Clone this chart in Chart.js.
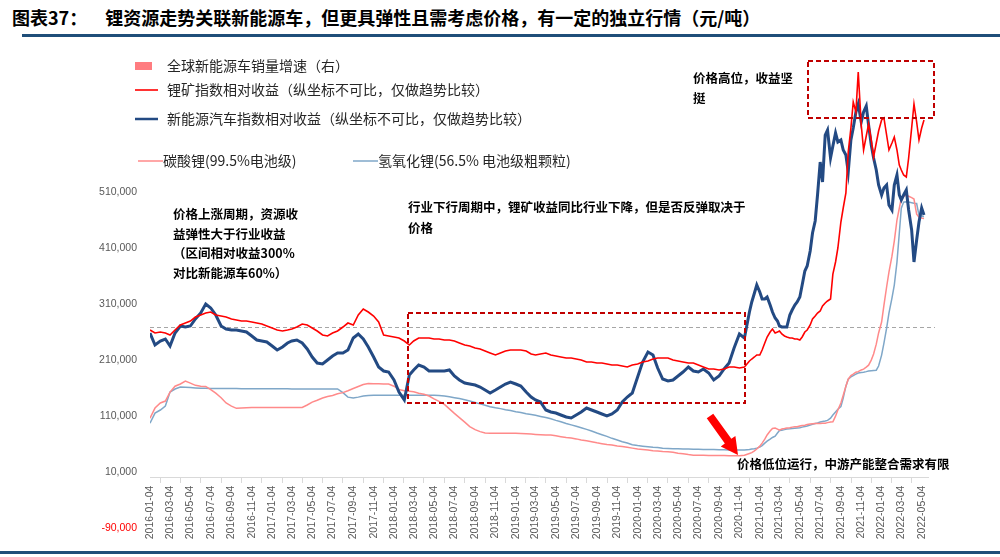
<!DOCTYPE html>
<html lang="zh-CN">
<head>
<meta charset="utf-8">
<title>锂资源走势</title>
<script src="https://cdn.jsdelivr.net/npm/chart.js@4.4.1/dist/chart.umd.min.js"></script>
<style>
  html, body { margin: 0; padding: 0; background: #fff; }
  body { width: 1000px; height: 557px; position: relative; overflow: hidden; font-family: "Noto Sans CJK SC", sans-serif; }
  #title { position: absolute; left: 12px; top: 4px; font-size: 18px; font-weight: 700; color: #000; white-space: nowrap; line-height: 26px; }
  #title .main { margin-left: 18px; }
  #topRule { position: absolute; left: 22px; right: 0; top: 34px; height: 3px; background: #1f4e79; }
  #bottomRule { position: absolute; left: 0; right: 0; top: 551px; height: 3px; background: #1f4e79; }
  #wrap { position: absolute; left: 0; top: 0; width: 1000px; height: 557px; }
</style>
</head>
<body>
<div id="title"><span>图表37：</span><span class="main">锂资源走势关联新能源车，但更具弹性且需考虑价格，有一定的独立行情（元/吨）</span></div>
<div id="topRule"></div>
<div id="wrap"><canvas id="chart" width="1000" height="557"></canvas></div>
<div id="bottomRule"></div>
<script>
// 日期（2016-2020.11 半月一个点，之后每周一个点）
const dates = [
  '2016-01-04','2016-01-19','2016-02-04','2016-02-19','2016-03-04','2016-03-19','2016-04-04','2016-04-19','2016-05-04','2016-05-19','2016-06-04','2016-06-19',
  '2016-07-04','2016-07-19','2016-08-04','2016-08-19','2016-09-04','2016-09-19','2016-10-04','2016-10-19','2016-11-04','2016-11-19','2016-12-04','2016-12-19',
  '2017-01-04','2017-01-19','2017-02-04','2017-02-19','2017-03-04','2017-03-19','2017-04-04','2017-04-19','2017-05-04','2017-05-19','2017-06-04','2017-06-19',
  '2017-07-04','2017-07-19','2017-08-04','2017-08-19','2017-09-04','2017-09-19','2017-10-04','2017-10-19','2017-11-04','2017-11-19','2017-12-04','2017-12-19',
  '2018-01-04','2018-01-19','2018-02-04','2018-02-19','2018-03-04','2018-03-19','2018-04-04','2018-04-19','2018-05-04','2018-05-19','2018-06-04','2018-06-19',
  '2018-07-04','2018-07-19','2018-08-04','2018-08-19','2018-09-04','2018-09-19','2018-10-04','2018-10-19','2018-11-04','2018-11-19','2018-12-04','2018-12-19',
  '2019-01-04','2019-01-19','2019-02-04','2019-02-19','2019-03-04','2019-03-19','2019-04-04','2019-04-19','2019-05-04','2019-05-19','2019-06-04','2019-06-19',
  '2019-07-04','2019-07-19','2019-08-04','2019-08-19','2019-09-04','2019-09-19','2019-10-04','2019-10-19','2019-11-04','2019-11-19','2019-12-04','2019-12-19',
  '2020-01-04','2020-01-19','2020-02-04','2020-02-19','2020-03-04','2020-03-19','2020-04-04','2020-04-19','2020-05-04','2020-05-19','2020-06-04','2020-06-19',
  '2020-07-04','2020-07-19','2020-08-04','2020-08-19','2020-09-04','2020-09-19','2020-10-04','2020-10-19','2020-11-04','2020-11-19',
  '2020-12-04','2020-12-11','2020-12-19','2020-12-26',
  '2021-01-04','2021-01-11','2021-01-19','2021-01-26','2021-02-04','2021-02-11','2021-02-19','2021-02-26','2021-03-04','2021-03-11','2021-03-19','2021-03-26',
  '2021-04-04','2021-04-11','2021-04-19','2021-04-26','2021-05-04','2021-05-11','2021-05-19','2021-05-26','2021-06-04','2021-06-11','2021-06-19','2021-06-26',
  '2021-07-04','2021-07-11','2021-07-19','2021-07-26','2021-08-04','2021-08-11','2021-08-19','2021-08-26','2021-09-04','2021-09-11','2021-09-19','2021-09-26',
  '2021-10-04','2021-10-11','2021-10-19','2021-10-26','2021-11-04','2021-11-11','2021-11-19','2021-11-26','2021-12-04','2021-12-11','2021-12-19','2021-12-26',
  '2022-01-04','2022-01-11','2022-01-19','2022-01-26','2022-02-04','2022-02-11','2022-02-19','2022-02-26','2022-03-04','2022-03-11','2022-03-19','2022-03-26',
  '2022-04-04','2022-04-11','2022-04-19','2022-04-26','2022-05-04','2022-05-11'
];

// 锂矿指数相对收益（起点=100，纵坐标不可比）
const mineIdx = [
  98.5,97, 97.5,97, 96,98.5, 101,102, 103,105, 106,107, 107.5,106, 105.5,105, 104,103.5, 103,103, 102.5,102, 101.5,100.5,
  99.5,98.5, 98,98.5, 99,100, 101.5,101, 99.5,98, 96,95.5, 97,98, 100,102, 101,106, 109,107.5, 105.5,102.5, 96,95.5,
  95,94.5, 93,91, 93,94.5, 94.5,94.5, 94,94, 93.5,93.5, 93,92, 91,90.5, 89.5,89, 88,87, 86,87, 88,88.5,
  88.5,88.5, 88,86.5, 86,86.5, 87,86, 85.5,85, 84.5,84.5, 84,83.5, 82.5,82.5, 82,82, 81.5,81, 81,80.5, 80,81,
  81.5,82.5, 83,84, 84.5,84.5, 84.5,83.5, 83,82.5, 82,82, 81,80, 79,79, 78.5,79, 80,80, 79.5,80,
  83,84,85,86,
  86,88.5,92,95, 97.5,99,97,97.5, 98,96.5,95.5,95, 94.5,94.5,94,94, 93.5,95,97.5,98.5, 101,104,105.5,107,
  108,110.5,112,113, 114,126.5,132.5,139.5, 152.5,159.5,167,187.5, 199.5,212.5,207.5,227.5, 201,188.5,195.5,201.5, 193.5,185,192,198,
  203.5,204.5,196,188.5, 192,195,188.5,181, 178.5,176,175,184.5, 199.5,211.5,202.5,193.5, 199.5,203.5
];

// 新能源汽车指数相对收益（起点=100，纵坐标不可比）
const nevIdx = [
  97,91, 93,94, 90.5,97, 100.5,100, 100.5,104, 107,111.5, 109.5,106, 100.5,99, 98.5,98.5, 98,97.5, 95.5,93.5, 93,92.5,
  90.5,88.5, 90,92, 93,93.5, 92,89, 85,82, 81.5,83.5, 85.5,87, 87,88.5, 94.5,96.5, 94,90, 85,80, 78,77.5,
  73.5,67.5, 63.5,76, 78.5,81, 80,78, 78,78, 78,78.5, 75.5,73.5, 72,71.5, 71,70, 68.5,67, 68.5,70, 71.5,72.5,
  71.5,70.5, 67.5,65, 63.5,62.5, 58.5,57.5, 57,56, 55,54.5, 56,57.5, 59.5,58.5, 57.5,56.5, 55.5,56.5, 58.5,62.5, 65,67,
  75,82.5, 87.5,86, 79.5,74, 73,73.5, 75.5,77.5, 80,78, 77.5,79, 77,73.5, 75.5,79, 82,89.5, 96.5,94.5,
  107.5,112.5,117,121,
  117.5,114,114,115, 111,107.5,104.5,103, 100.5,100,100,100, 106,108.5,111,112.5, 115,121,128,130.5, 138,147,153,166,
  182.5,172.5,196,198.5, 184.5,190.5,197,192.5, 193.5,188.5,186,177.5, 193.5,199.5,207.5,211.5, 202.5,207.5,210.5,201, 191,184.5,178.5,171,
  166,169.5,171,161, 158.5,171,176,166, 163.5,166,168.5,158.5, 148.5,132.5,143.5,152.5, 159.5,156
];

// 碳酸锂（99.5%电池级），元/吨
const li2co3 = [
  106000,124000, 133000,136500, 152500,163000, 167000,172000, 168500,164500, 163000,162500,
  157000,150500, 142500,133000, 127500,123500, 124000,124500, 125000,125000, 125000,125000,
  125000,125000, 125000,125000, 125000,125000, 125000,129500, 134500,138000, 142000,144500,
  146500,149500, 151500,155000, 159000,162500, 166000,168000, 167500,167500, 167000,167000,
  163000,157000, 155000,154000, 153000,150500, 148500,145500, 140500,136000, 130500,122500,
  114500,107000, 99000,91000, 85500,82000, 79500,79000, 79000,79000, 79000,79000,
  79000,78500, 78000,77500, 77000,76500, 76000,76000, 74500,73000, 71500,70500,
  69000,67000, 65500,64000, 62000,60500, 59000,58000, 56500,55500, 54000,52500,
  51000,50000, 49000,48000, 47500,46500, 46000,45000, 43500,42500, 41000,40000,
  40000,40000, 39500,39500, 39500,39500, 39000,39000, 39000,40000,
  43000,44500,47500,51000,
  56000,61500,68500,76000, 83000,87500,88500,86500, 84500,86500,87500,88500,
  89000,90000,90500,90500, 92000,93000,93500,94500, 95500,96000,96500,96500,
  96500,97000,97000,98000, 99000,99500,109500,120500, 133000,147000,163000,175500,
  182000,184500,188000,189000, 192000,193500,197000,200500, 209500,220500,238000,258000,
  277500,307500,340000,366500, 395000,422000,459500,480500, 498500,502000,504000,502000,
  499500,497000,470000,464500, 463000,462000
];

// 氢氧化锂（56.5% 电池级粗颗粒），元/吨
const lioh = [
  97000,115000, 120500,127500, 152500,158000, 161500,161000, 160500,160000, 159500,159500,
  159000,159000, 159000,159000, 159000,159000, 158500,158500, 158500,158500, 158500,158500,
  158500,158500, 158500,158500, 158000,158000, 158000,158000, 158000,158000, 158000,158000,
  158000,158000, 151500,143500, 142000,143500, 145500,146500, 147000,147000, 147000,147000,
  147000,147000, 147000,147000, 147000,147000, 147000,147000, 147000,146500, 145500,144000,
  142500,141000, 139000,136500, 134000,131500, 129000,126500, 124500,123000, 121000,119500,
  117500,116000, 114000,112500, 111000,109000, 107000,105000, 102000,99500, 96500,94000,
  91500,89000, 86000,83000, 79500,76500, 73500,70000, 67000,64000, 61500,58500,
  57000,56000, 55000,54000, 53500,52500, 52000,51500, 51500,51000, 51000,50500,
  50500,50000, 50000,50000, 49500,49500, 49000,49000, 49000,49000,
  50000,51000,51500,52500,
  54500,57000,61500,65000, 68500,71500,74000,79500, 84000,84500,85500,86500,
  87000,87500,88000,88500, 89000,90000,91000,92000, 93500,95000,96500,97500,
  99000,100000,101000,102000, 106000,111500,117000,122000, 126500,142000,163000,175500,
  179500,182000,184500,186500, 187500,188000,189000,190000, 190500,191000,191500,199000,
  218500,240000,266500,293500, 320000,343500,384500,436000, 480500,491500,492000,491500,
  490500,489500,489000,468000, 466500,465500
];

// 全球新能源车销量增速（右）：图中没有画出柱形
const nevSalesGrowth = [];

// 横轴刻度
const xTickLabels = [
  '2016-01-04','2016-03-04','2016-05-04','2016-07-04','2016-09-04','2016-11-04',
  '2017-01-04','2017-03-04','2017-05-04','2017-07-04','2017-09-04','2017-11-04',
  '2018-01-04','2018-03-04','2018-05-04','2018-07-04','2018-09-04','2018-11-04',
  '2019-01-04','2019-03-04','2019-05-04','2019-07-04','2019-09-04','2019-11-04',
  '2020-01-04','2020-03-04','2020-05-04','2020-07-04','2020-09-04','2020-11-04',
  '2021-01-04','2021-03-04','2021-05-04','2021-07-04','2021-09-04','2021-11-04',
  '2022-01-04','2022-03-04','2022-05-04'
];
// 左轴刻度
const yTickValues = [-90000, 10000, 110000, 210000, 310000, 410000, 510000];

// 日期 -> 距 2016-01-04 的天数
const T0 = Date.UTC(2016, 0, 4);
function dayOf(s) {
  const p = s.split('-');
  return (Date.UTC(+p[0], +p[1] - 1, +p[2]) - T0) / 86400000;
}
const tickNames = {};
xTickLabels.forEach(d => { tickNames[dayOf(d)] = d; });

function points(values) {
  return values.map((v, i) => ({ x: dayOf(dates[i]), y: v }));
}

// 图例位置
const legendLayout = [
  { ds: 4, kind: 'box',  x: 135, y: 66,  len: 17, tx: 167 },
  { ds: 0, kind: 'line', x: 135, y: 90,  len: 23, tx: 167 },
  { ds: 1, kind: 'line', x: 135, y: 119, len: 23, tx: 167 },
  { ds: 2, kind: 'line', x: 138, y: 161, len: 25, tx: 163 },
  { ds: 3, kind: 'line', x: 353, y: 161, len: 25, tx: 378 }
];

// 文字批注
const notes = [
  { x: 173, y: 214, text: '价格上涨周期，资源收' },
  { x: 173, y: 234, text: '益弹性大于行业收益' },
  { x: 173, y: 253, text: '（区间相对收益300%' },
  { x: 173, y: 273, text: '对比新能源车60%）' },
  { x: 408, y: 207, text: '行业下行周期中，锂矿收益同比行业下降，但是否反弹取决于' },
  { x: 408, y: 228, text: '价格' },
  { x: 693, y: 78,  text: '价格高位，收益坚' },
  { x: 693, y: 98,  text: '挺' },
  { x: 737, y: 464, text: '价格低位运行，中游产能整合需求有限' }
];
const dashBoxes = [
  { x1: 408, y1: 313, x2: 745, y2: 403 },
  { x1: 808, y1: 61,  x2: 934, y2: 118 }
];
const arrow = { from: [710, 416], to: [738, 455] };

const decorations = {
  id: 'decorations',
  beforeDatasetsDraw(chart) {
    const { ctx, chartArea, scales } = chart;
    const y = Math.round(scales.y2.getPixelForValue(100)) + 0.5;
    ctx.save();
    ctx.strokeStyle = '#a6a6a6';
    ctx.lineWidth = 1;
    ctx.setLineDash([4, 3]);
    ctx.beginPath();
    ctx.moveTo(chartArea.left, y);
    ctx.lineTo(chartArea.right + 7, y);
    ctx.stroke();
    ctx.restore();
  },
  afterDraw(chart) {
    const ctx = chart.ctx;
    const sets = chart.data.datasets;
    ctx.save();

    // 图例
    ctx.font = '14px "Noto Sans CJK SC", sans-serif';
    ctx.textBaseline = 'middle';
    ctx.textAlign = 'left';
    legendLayout.forEach(item => {
      const ds = sets[item.ds];
      if (item.kind === 'box') {
        ctx.fillStyle = ds.backgroundColor;
        ctx.fillRect(item.x, item.y - 4, item.len, 8);
      } else {
        ctx.strokeStyle = ds.borderColor;
        ctx.lineWidth = Math.min(ds.borderWidth, 2.5);
        ctx.beginPath();
        ctx.moveTo(item.x, item.y);
        ctx.lineTo(item.x + item.len, item.y);
        ctx.stroke();
      }
      ctx.fillStyle = '#262626';
      ctx.fillText(ds.label, item.tx, item.y);
    });

    // 虚线框
    ctx.strokeStyle = '#c00000';
    ctx.lineWidth = 2;
    ctx.setLineDash([5, 3]);
    dashBoxes.forEach(b => ctx.strokeRect(b.x1, b.y1, b.x2 - b.x1, b.y2 - b.y1));
    ctx.setLineDash([]);

    // 红色箭头
    const [ax, ay] = arrow.from, [bx, by] = arrow.to;
    const len = Math.hypot(bx - ax, by - ay);
    const ux = (bx - ax) / len, uy = (by - ay) / len;
    const nx = -uy, ny = ux;
    const hx = bx - ux * 17, hy = by - uy * 17;
    ctx.fillStyle = '#ff0000';
    ctx.beginPath();
    ctx.moveTo(ax + nx * 4, ay + ny * 4);
    ctx.lineTo(hx + nx * 4, hy + ny * 4);
    ctx.lineTo(hx + nx * 9, hy + ny * 9);
    ctx.lineTo(bx, by);
    ctx.lineTo(hx - nx * 9, hy - ny * 9);
    ctx.lineTo(hx - nx * 4, hy - ny * 4);
    ctx.lineTo(ax - nx * 4, ay - ny * 4);
    ctx.closePath();
    ctx.fill();

    // 批注文字
    ctx.fillStyle = '#000';
    ctx.font = 'bold 12.5px "Noto Sans CJK SC", sans-serif';
    notes.forEach(n => ctx.fillText(n.text, n.x, n.y));
    ctx.restore();
  }
};

Chart.defaults.font.family = "'Liberation Sans', 'Noto Sans CJK SC', sans-serif";

new Chart(document.getElementById('chart'), {
  type: 'line',
  data: {
    datasets: [
      {
        label: '锂矿指数相对收益（纵坐标不可比，仅做趋势比较）',
        data: points(mineIdx), yAxisID: 'y2',
        borderColor: '#ff0000', borderWidth: 1.6
      },
      {
        label: '新能源汽车指数相对收益（纵坐标不可比，仅做趋势比较）',
        data: points(nevIdx), yAxisID: 'y2',
        borderColor: '#234a83', borderWidth: 3
      },
      {
        label: '碳酸锂(99.5%电池级)',
        data: points(li2co3), yAxisID: 'y',
        borderColor: '#ff8a8a', borderWidth: 1.5
      },
      {
        label: '氢氧化锂(56.5% 电池级粗颗粒)',
        data: points(lioh), yAxisID: 'y',
        borderColor: '#7fa7c8', borderWidth: 1.5
      },
      {
        type: 'bar',
        label: '全球新能源车销量增速（右）',
        data: nevSalesGrowth, yAxisID: 'y3',
        backgroundColor: '#ff7c80'
      }
    ]
  },
  options: {
    responsive: false,
    animation: false,
    events: [],
    layout: { padding: { left: 0, right: 72, top: 46, bottom: 29 } },
    elements: {
      point: { radius: 0 },
      line: { tension: 0, fill: false }
    },
    plugins: {
      legend: { display: false },
      tooltip: { enabled: false }
    },
    scales: {
      x: {
        type: 'linear',
        position: { y: 0 },
        min: 0,
        max: 2331,
        offset: false,
        afterBuildTicks: scale => {
          scale.ticks = xTickLabels.map(d => ({ value: dayOf(d) }));
        },
        ticks: {
          autoSkip: false,
          maxRotation: 90,
          minRotation: 90,
          padding: 3,
          color: '#595959',
          font: { size: 10.5 },
          callback: v => tickNames[v] || ''
        },
        grid: { drawOnChartArea: false, drawTicks: true, tickLength: 5, color: '#d9d9d9' },
        border: { display: true, color: '#d9d9d9' }
      },
      y: {
        type: 'linear',
        position: 'left',
        min: -90000,
        max: 770000,
        afterBuildTicks: scale => {
          scale.ticks = yTickValues.map(v => ({ value: v }));
        },
        afterFit: scale => { scale.width = 150; },
        ticks: {
          padding: 13,
          color: ctx => (ctx.tick && ctx.tick.value < 0) ? '#ff0000' : '#595959',
          font: { size: 10.5 },
          callback: v => v.toLocaleString('en-US')
        },
        grid: { display: false, drawTicks: false },
        border: { display: false }
      },
      y2: { type: 'linear', display: false, min: -0.5, max: 240.5 },
      y3: { type: 'linear', display: false, position: 'right', min: -1, max: 1 }
    }
  },
  plugins: [decorations]
});
</script>
</body>
</html>
